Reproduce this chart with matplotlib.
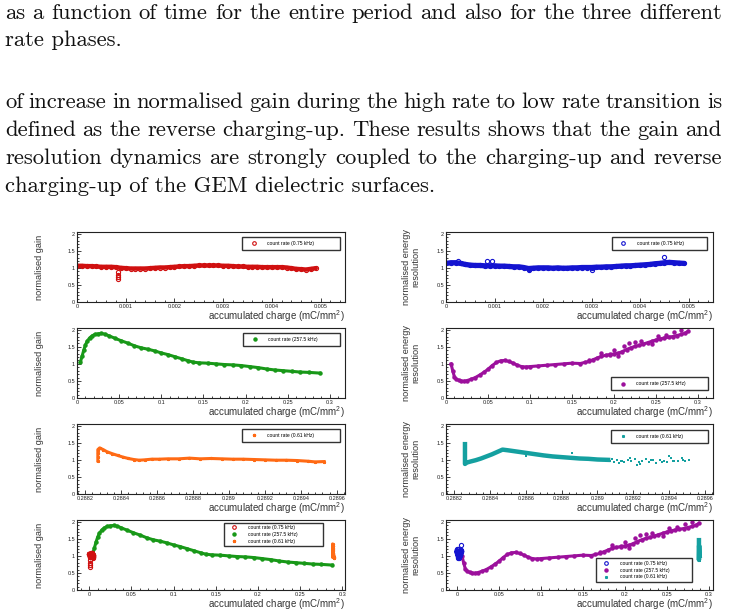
import matplotlib
matplotlib.use("Agg")
import matplotlib.pyplot as plt
from matplotlib.ticker import MultipleLocator, FuncFormatter
from matplotlib.lines import Line2D

plt.rcParams['font.family'] = ['Liberation Sans', 'DejaVu Sans']
plt.rcParams['mathtext.fontset'] = 'custom'
plt.rcParams['mathtext.rm'] = 'Liberation Sans'
plt.rcParams['mathtext.default'] = 'regular'

# page text
para1 = ["as a function of time for the entire period and also for the three different",
         "rate phases."]
para2 = ["of increase in normalised gain during the high rate to low rate transition is",
         "defined as the reverse charging-up.  These results shows that the gain and",
         "resolution dynamics are strongly coupled to the charging-up and reverse",
         "charging-up of the GEM dielectric surfaces."]

labels = ["count rate (0.75 kHz)", "count rate (257.5 kHz)", "count rate (0.61 kHz)"]

# 0.75 kHz phase
low_x = [0.00000, 0.00010, 0.00020, 0.00030, 0.00040, 0.00050, 0.00060, 0.00070, 0.00080, 0.00090,
         0.00100, 0.00110, 0.00120, 0.00130, 0.00140, 0.00150, 0.00160, 0.00170, 0.00180, 0.00190,
         0.00200, 0.00210, 0.00220, 0.00230, 0.00240, 0.00250, 0.00260, 0.00270, 0.00280, 0.00290,
         0.00300, 0.00310, 0.00320, 0.00330, 0.00340, 0.00350, 0.00360, 0.00370, 0.00380, 0.00390,
         0.00400, 0.00410, 0.00420, 0.00430, 0.00440, 0.00450, 0.00460, 0.00470, 0.00480, 0.00490]
gain_low = [1.06, 1.06, 1.05, 1.05, 1.04, 1.03, 1.03, 1.03, 1.02, 1.00,
            0.99, 0.98, 0.98, 0.98, 0.98, 0.99, 1.00, 1.01, 1.01, 1.02,
            1.03, 1.04, 1.05, 1.05, 1.06, 1.07, 1.07, 1.07, 1.07, 1.07,
            1.06, 1.06, 1.05, 1.04, 1.04, 1.03, 1.03, 1.03, 1.02, 1.02,
            1.02, 1.02, 1.02, 1.01, 0.99, 0.97, 0.96, 0.95, 0.97, 0.99]
gain_low_out_x = [0.00085, 0.00085, 0.00085, 0.00085]
gain_low_out_y = [0.88, 0.80, 0.74, 0.66]
res_low = [1.13, 1.15, 1.15, 1.13, 1.10, 1.08, 1.07, 1.07, 1.06, 1.06,
           1.06, 1.05, 1.05, 1.04, 1.03, 1.03, 1.01, 0.98, 0.99, 1.00,
           1.00, 1.00, 0.99, 1.00, 0.99, 0.99, 1.00, 1.00, 1.01, 1.01,
           1.01, 1.02, 1.02, 1.03, 1.03, 1.04, 1.05, 1.06, 1.06, 1.07,
           1.08, 1.09, 1.10, 1.12, 1.13, 1.15, 1.16, 1.15, 1.14, 1.13]
res_low_out_x = [0.00025, 0.00085, 0.00095, 0.00170, 0.00300, 0.00450]
res_low_out_y = [1.19, 1.20, 1.21, 0.93, 0.95, 1.32]

# 257.5 kHz phase
high_gx = [0.004, 0.006, 0.008, 0.010, 0.012, 0.015, 0.018, 0.021, 0.025, 0.029,
           0.033, 0.038, 0.045, 0.052, 0.060, 0.068, 0.076, 0.084, 0.092, 0.100,
           0.108, 0.116, 0.124, 0.132, 0.138, 0.145, 0.155, 0.165, 0.175, 0.185,
           0.195, 0.205, 0.215, 0.225, 0.235, 0.245, 0.255, 0.265, 0.275, 0.288]
gain_high = [1.05, 1.22, 1.40, 1.55, 1.66, 1.76, 1.82, 1.86, 1.88, 1.89,
             1.87, 1.82, 1.75, 1.68, 1.61, 1.53, 1.47, 1.43, 1.38, 1.32,
             1.27, 1.21, 1.15, 1.09, 1.05, 1.03, 1.02, 1.00, 0.98, 0.97,
             0.95, 0.92, 0.89, 0.85, 0.82, 0.80, 0.78, 0.76, 0.75, 0.73]
high_rx = [0.006, 0.008, 0.010, 0.012, 0.015, 0.018, 0.021, 0.025, 0.030, 0.035,
           0.040, 0.045, 0.050, 0.055, 0.060, 0.065, 0.070, 0.075, 0.080, 0.085,
           0.090, 0.095, 0.100, 0.110, 0.120, 0.130, 0.140, 0.150, 0.160, 0.165,
           0.170, 0.175, 0.180, 0.185, 0.190, 0.195, 0.200, 0.205, 0.210, 0.215,
           0.220, 0.225, 0.230, 0.235, 0.240, 0.245, 0.250, 0.255, 0.260, 0.265,
           0.270, 0.275, 0.280, 0.285, 0.288]
res_high = [1.00, 0.80, 0.62, 0.55, 0.52, 0.50, 0.49, 0.51, 0.55, 0.60,
            0.67, 0.75, 0.84, 0.95, 1.04, 1.09, 1.10, 1.07, 1.02, 0.96,
            0.92, 0.91, 0.92, 0.94, 0.96, 0.98, 1.00, 1.02, 1.01, 1.04,
            1.07, 1.12, 1.17, 1.22, 1.25, 1.27, 1.29, 1.31, 1.36, 1.42,
            1.47, 1.51, 1.54, 1.58, 1.62, 1.66, 1.70, 1.73, 1.76, 1.78,
            1.80, 1.83, 1.86, 1.90, 1.95]
res_high_out_x = [0.170, 0.185, 0.195, 0.200, 0.205, 0.212, 0.218, 0.225, 0.232, 0.245,
                  0.252, 0.262, 0.272, 0.280]
res_high_out_y = [1.12, 1.33, 1.30, 1.42, 1.22, 1.52, 1.60, 1.64, 1.68, 1.57,
                  1.82, 1.85, 1.92, 1.98]

# 0.61 kHz phase
rec_gx = [0.28827, 0.28827, 0.28827, 0.28827, 0.28828, 0.28830, 0.28832, 0.28835, 0.28838, 0.28841,
          0.28844, 0.28847, 0.28850, 0.28853, 0.28857, 0.28861, 0.28866, 0.28872, 0.28878, 0.28884,
          0.28890, 0.28896, 0.28902, 0.28908, 0.28914, 0.28920, 0.28926, 0.28932, 0.28938, 0.28944,
          0.28948, 0.28953]
gain_rec = [0.97, 1.08, 1.20, 1.30, 1.35, 1.30, 1.24, 1.18, 1.13, 1.08,
            1.04, 1.01, 0.99, 1.00, 1.02, 1.02, 1.03, 1.03, 1.05, 1.03,
            1.04, 1.03, 1.02, 1.02, 1.01, 1.00, 0.99, 0.99, 0.98, 0.96,
            0.94, 0.95]
rec_rx = [0.28826, 0.28826, 0.28826, 0.28826, 0.28826, 0.28826,
          0.28827, 0.28829, 0.28832, 0.28835, 0.28838, 0.28841, 0.28844, 0.28847, 0.28850, 0.28854,
          0.28858, 0.28862, 0.28866, 0.28870, 0.28875, 0.28880, 0.28885, 0.28890, 0.28895, 0.28900,
          0.28906]
res_rec = [1.46, 1.38, 1.25, 1.12, 1.00, 0.88,
           0.92, 0.95, 0.99, 1.04, 1.10, 1.16, 1.23, 1.30, 1.28, 1.25,
           1.22, 1.19, 1.16, 1.13, 1.10, 1.08, 1.06, 1.04, 1.03, 1.01,
           1.00]
res_rec_out_x = [0.28907, 0.28909, 0.28911, 0.28913, 0.28915, 0.28917, 0.28919, 0.28921, 0.28923, 0.28925,
                 0.28927, 0.28929, 0.28931, 0.28933, 0.28935, 0.28937, 0.28939, 0.28941, 0.28943, 0.28945,
                 0.28947, 0.28949, 0.28951, 0.28908, 0.28912, 0.28918, 0.28924, 0.28930, 0.28936, 0.28942,
                 0.28948, 0.28914, 0.28922, 0.28940, 0.28886, 0.28860]
res_rec_out_y = [0.98, 0.95, 1.00, 0.97, 0.93, 0.99, 0.96, 1.02, 0.94, 0.98,
                 1.03, 0.95, 0.99, 0.91, 1.01, 0.97, 0.94, 1.05, 0.98, 0.96,
                 1.06, 0.97, 0.99, 1.02, 0.92, 1.04, 0.89, 1.00, 0.93, 0.97,
                 1.01, 0.96, 0.85, 1.10, 1.20, 1.10]

RED, BLUE, GREEN, PURPLE, ORANGE, TEAL = '#d01010', '#1414d0', '#189818', '#9c109c', '#ff6a14', '#14a0a0'

W, H = 729, 614
fig = plt.figure(figsize=(W / 100, H / 100), dpi=100)

# justified paragraph text
serif = dict(family=['cmr10', 'DejaVu Serif'], fontsize=16.3, va='baseline', color='#111111')
renderer = fig.canvas.get_renderer()


def put_line(line, y, justify, x0=5, x1=722):
    if not justify:
        fig.text(x0 / W, 1 - y / H, line, **serif)
        return
    words = line.split()
    texts = [fig.text(0, 1 - y / H, w, **serif) for w in words]
    widths = [t.get_window_extent(renderer).width for t in texts]
    gap = (x1 - x0 - sum(widths)) / (len(words) - 1)
    x = x0
    for t, w in zip(texts, widths):
        t.set_x(x / W)
        x += w + gap


for i, (line, y) in enumerate(zip(para1, [19, 46])):
    put_line(line, y, i < len(para1) - 1)
for i, (line, y) in enumerate(zip(para2, [108, 136, 164, 192])):
    put_line(line, y, i < len(para2) - 1)

rows = [232, 328, 424, 520]


def make_ax(col, row):
    left, width = [(77, 268), (446, 267)][col]
    return fig.add_axes([left / W, 1 - (rows[row] + 70) / H, width / W, 70 / H])


def fmt(v, p):
    if abs(v) < 1e-12:
        return '0'
    return '%g' % round(v, 6)


def style(ax, xlim, xmaj, xmin, ylab, col):
    ax.set_xlim(*xlim)
    ax.set_ylim(0, 2.05)
    ax.xaxis.set_major_locator(MultipleLocator(xmaj))
    ax.xaxis.set_minor_locator(MultipleLocator(xmin))
    ax.yaxis.set_major_locator(MultipleLocator(0.5))
    ax.yaxis.set_minor_locator(MultipleLocator(0.1))
    ax.xaxis.set_major_formatter(FuncFormatter(fmt))
    ax.yaxis.set_major_formatter(FuncFormatter(fmt))
    ax.tick_params(which='both', direction='in', top=False, right=False,
                   labelsize=4, pad=1.5, width=0.6, colors='#222222')
    ax.tick_params(which='major', length=3.2)
    ax.tick_params(which='minor', length=1.6)
    for s in ax.spines.values():
        s.set_linewidth(0.8)
        s.set_color('#222222')
    ax.text(1.0, -0.2, 'accumulated charge (mC/mm$^{2}$)', transform=ax.transAxes,
            ha='right', va='center', fontsize=7, color='#333333')
    ax.text(-0.14 if col == 0 else -0.13, 0.5, ylab, transform=ax.transAxes, rotation=90,
            ha='center', va='center', fontsize=6.6, color='#333333', multialignment='center',
            linespacing=1.05)


def add_legend(ax, handles, labs, box, spacing=0.6, bpad=0.8):
    x0, y0, x1, y1 = box
    leg = ax.legend(handles, labs, loc='center', bbox_to_anchor=(x0, y0, x1 - x0, y1 - y0),
                    mode='expand', fontsize=3.6, frameon=True, fancybox=False,
                    edgecolor='black', borderaxespad=0, handlelength=3, handletextpad=1.2,
                    labelspacing=spacing, borderpad=bpad)
    leg.get_frame().set_linewidth(1.0)
    leg.get_frame().set_facecolor('white')


h_red = Line2D([], [], ls='none', marker='o', mfc='none', mec=RED, ms=2.6, mew=0.8)
h_blue = Line2D([], [], ls='none', marker='o', mfc='none', mec=BLUE, ms=2.6, mew=0.8)
h_green = Line2D([], [], ls='none', marker='o', color=GREEN, ms=2.2)
h_purple = Line2D([], [], ls='none', marker='o', color=PURPLE, ms=2.2)
h_orange = Line2D([], [], ls='none', marker='*', color=ORANGE, ms=2.2)
h_teal = Line2D([], [], ls='none', marker='s', color=TEAL, ms=1.2)

GL = 'normalised gain'
RL = 'normalised energy\nresolution'
xl_low = (0, 0.0055)
xl_high = (0, 0.318)
xl_rec = (0.288154, 0.289646)


def draw_low_gain(ax):
    ax.plot(low_x, gain_low, '-', color=RED, lw=3.2, solid_capstyle='round')
    ax.plot(low_x + gain_low_out_x, gain_low + gain_low_out_y, 'o', mfc='none', mec=RED, ms=3, mew=0.8)


def draw_low_res(ax):
    ax.plot(low_x, res_low, '-', color=BLUE, lw=3.8, solid_capstyle='round')
    ax.plot(low_x + res_low_out_x, res_low + res_low_out_y, 'o', mfc='none', mec=BLUE, ms=3, mew=0.8)


def draw_high_gain(ax):
    ax.plot(high_gx, gain_high, '-o', color=GREEN, lw=2.2, ms=2.2)


def draw_high_res(ax):
    ax.plot(high_rx, res_high, '-o', color=PURPLE, lw=2.2, ms=2.2)
    ax.plot(res_high_out_x, res_high_out_y, 'o', color=PURPLE, ms=2.2)


def draw_rec_gain(ax):
    ax.plot(rec_gx, gain_rec, '-', color=ORANGE, lw=2.2)
    ax.plot(rec_gx, gain_rec, '*', color=ORANGE, ms=2)


def draw_rec_res(ax):
    ax.plot(rec_rx, res_rec, '-', color=TEAL, lw=3.2)
    ax.plot(res_rec_out_x, res_rec_out_y, 's', color=TEAL, ms=1.7, mew=0)


# row 1
ax = make_ax(0, 0)
draw_low_gain(ax)
style(ax, xl_low, 0.001, 0.0002, GL, 0)
add_legend(ax, [h_red], labels[:1], (0.616, 0.743, 0.981, 0.93))

ax = make_ax(1, 0)
draw_low_res(ax)
style(ax, xl_low, 0.001, 0.0002, RL, 1)
add_legend(ax, [h_blue], labels[:1], (0.62, 0.743, 0.978, 0.93))

# row 2
ax = make_ax(0, 1)
draw_high_gain(ax)
style(ax, xl_high, 0.05, 0.01, GL, 0)
add_legend(ax, [h_green], labels[1:2], (0.62, 0.74, 0.981, 0.93))

ax = make_ax(1, 1)
draw_high_res(ax)
style(ax, xl_high, 0.05, 0.01, RL, 1)
add_legend(ax, [h_purple], labels[1:2], (0.618, 0.115, 0.98, 0.29))

# row 3
ax = make_ax(0, 2)
draw_rec_gain(ax)
style(ax, xl_rec, 0.0002, 0.00004, GL, 0)
add_legend(ax, [h_orange], labels[2:], (0.616, 0.74, 0.981, 0.93))

ax = make_ax(1, 2)
draw_rec_res(ax)
style(ax, xl_rec, 0.0002, 0.00004, RL, 1)
add_legend(ax, [h_teal], labels[2:], (0.618, 0.73, 0.98, 0.915))

# row 4, all phases together
ax = make_ax(0, 3)
draw_high_gain(ax)
draw_low_gain(ax)
draw_rec_gain(ax)
style(ax, (-0.0145, 0.303), 0.05, 0.01, GL, 0)
add_legend(ax, [h_red, h_green, h_orange], labels, (0.55, 0.63, 0.918, 0.957), spacing=0.35, bpad=0.5)

ax = make_ax(1, 3)
draw_high_res(ax)
draw_low_res(ax)
draw_rec_res(ax)
style(ax, (-0.013, 0.305), 0.05, 0.01, RL, 1)
add_legend(ax, [h_blue, h_purple, h_teal], labels, (0.563, 0.13, 0.922, 0.44), spacing=0.35, bpad=0.5)

fig.savefig('out.png', dpi=100)
